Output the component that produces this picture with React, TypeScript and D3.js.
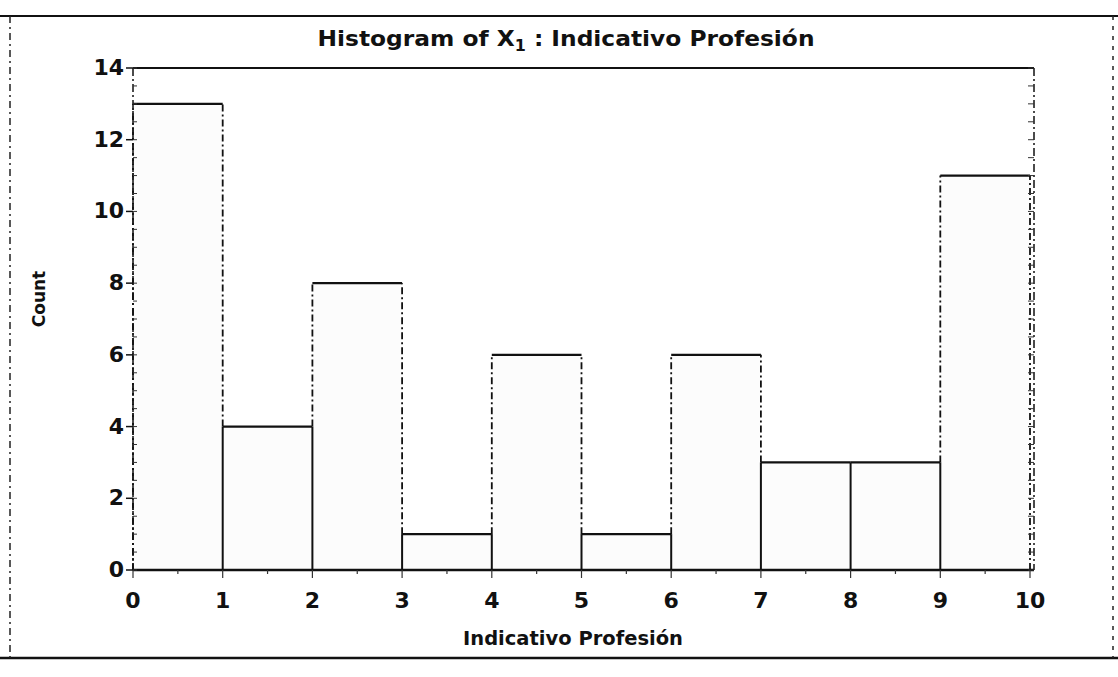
import React from "react";
import * as d3 from "d3";

const binStarts: number[] = [0, 1, 2, 3, 4, 5, 6, 7, 8, 9];
const counts: number[] = [13, 4, 8, 1, 6, 1, 6, 3, 3, 11];
const xTicks: number[] = [0, 1, 2, 3, 4, 5, 6, 7, 8, 9, 10];
const yTicks: number[] = [0, 2, 4, 6, 8, 10, 12, 14];
const titleMain = "Histogram of X";
const titleSub = "1";
const titleRest = " : Indicativo Profesión";
const xLabel = "Indicativo Profesión";
const yLabel = "Count";

const W = 1118;
const H = 677;
const left = 133;
const right = 1030;
const top = 68;
const bottom = 570;

const font = "'DejaVu Sans', 'Liberation Sans', sans-serif";

export default function App() {
  const x = d3.scaleLinear().domain([0, 10]).range([left, right]);
  const y = d3.scaleLinear().domain([0, 14]).range([bottom, top]);
  const minorY = d3.range(0, 14.01, 0.5);
  const minorX = d3.range(0, 10.01, 0.5);

  const edges = binStarts.map((b, i) => {
    const hL = counts[i];
    const prev = i > 0 ? counts[i - 1] : 0;
    return { xv: b, lo: Math.min(hL, prev), hi: Math.max(hL, prev) };
  });
  edges.push({ xv: 10, lo: 0, hi: counts[counts.length - 1] });

  return (
    <svg width={W} height={H} style={{ position: "absolute", left: 0, top: 0, background: "#fff" }}>
      <rect x={0} y={0} width={W} height={H} fill="#fff" />
      {/* outer frame */}
      <line x1={0} x2={W} y1={16} y2={16} stroke="#111" strokeWidth={2} />
      <line x1={0} x2={W} y1={658} y2={658} stroke="#111" strokeWidth={2.5} />
      <line x1={10} x2={10} y1={16} y2={658} stroke="#222" strokeWidth={1.5} strokeDasharray="7,4,2,4" />
      <line x1={1113} x2={1113} y1={16} y2={658} stroke="#222" strokeWidth={1.5} strokeDasharray="4,6" />

      {/* title */}
      <text x={566} y={46} textAnchor="middle" fontFamily={font} fontWeight="bold" fontSize={22} fill="#111" textLength={497} lengthAdjust="spacingAndGlyphs">
        {titleMain}
        <tspan fontSize={15} dy={5}>{titleSub}</tspan>
        <tspan dy={-5}>{titleRest}</tspan>
      </text>

      {/* bars */}
      {binStarts.map((b, i) => (
        <g key={"bar" + i}>
          <rect x={x(b)} y={y(counts[i])} width={x(b + 1) - x(b)} height={bottom - y(counts[i])} fill="#fcfcfc" />
          <line x1={x(b)} x2={x(b + 1)} y1={y(counts[i])} y2={y(counts[i])} stroke="#111" strokeWidth={2.2} />
        </g>
      ))}
      {edges.map((e, i) => (
        <g key={"edge" + i}>
          <line x1={x(e.xv)} x2={x(e.xv)} y1={bottom} y2={y(e.lo)} stroke="#111" strokeWidth={2} />
          <line x1={x(e.xv)} x2={x(e.xv)} y1={y(e.lo)} y2={y(e.hi)} stroke="#111" strokeWidth={1.8} strokeDasharray="7,3,2,3" />
        </g>
      ))}

      {/* plot frame */}
      <line x1={left} x2={right + 4} y1={top} y2={top} stroke="#111" strokeWidth={2} />
      <line x1={right + 4} x2={right + 4} y1={top} y2={bottom} stroke="#111" strokeWidth={1.5} strokeDasharray="8,3,2,3" />
      <line x1={left} x2={left} y1={top} y2={bottom} stroke="#111" strokeWidth={1.5} strokeDasharray="8,3,2,3" />

      {/* x axis */}
      <line x1={left} x2={right + 4} y1={bottom} y2={bottom} stroke="#111" strokeWidth={2.5} />
      {minorX.map((v) => (
        <line key={"mx" + v} x1={x(v)} x2={x(v)} y1={bottom} y2={bottom + (Number.isInteger(v) ? 8 : 4)} stroke="#333" strokeWidth={1.2} />
      ))}
      {xTicks.map((v) => (
        <text key={"xt" + v} x={x(v)} y={bottom + 38} textAnchor="middle" fontFamily={font} fontWeight="bold" fontSize={22} fill="#111">
          {v}
        </text>
      ))}
      <text x={573} y={645} textAnchor="middle" fontFamily={font} fontWeight="bold" fontSize={20} fill="#111" textLength={220} lengthAdjust="spacingAndGlyphs">
        {xLabel}
      </text>

      {/* y axis */}
      {yTicks.map((v) => (
        <g key={"yt" + v}>
          <line x1={left - 7} x2={left} y1={y(v)} y2={y(v)} stroke="#111" strokeWidth={1.5} />
          <text x={left - 9} y={y(v) + 7} textAnchor="end" fontFamily={font} fontWeight="bold" fontSize={22} fill="#111">
            {v}
          </text>
        </g>
      ))}
      {minorY.map((v) => (
        <g key={"my" + v}>
          <line x1={left} x2={left + 4} y1={y(v)} y2={y(v)} stroke="#333" strokeWidth={1} />
          <line x1={right + 4} x2={right - 2} y1={y(v)} y2={y(v)} stroke="#333" strokeWidth={1} />
        </g>
      ))}
      <text transform="translate(45,299) rotate(-90)" textAnchor="middle" fontFamily={font} fontWeight="bold" fontSize={17} fill="#111">
        {yLabel}
      </text>
    </svg>
  );
}
